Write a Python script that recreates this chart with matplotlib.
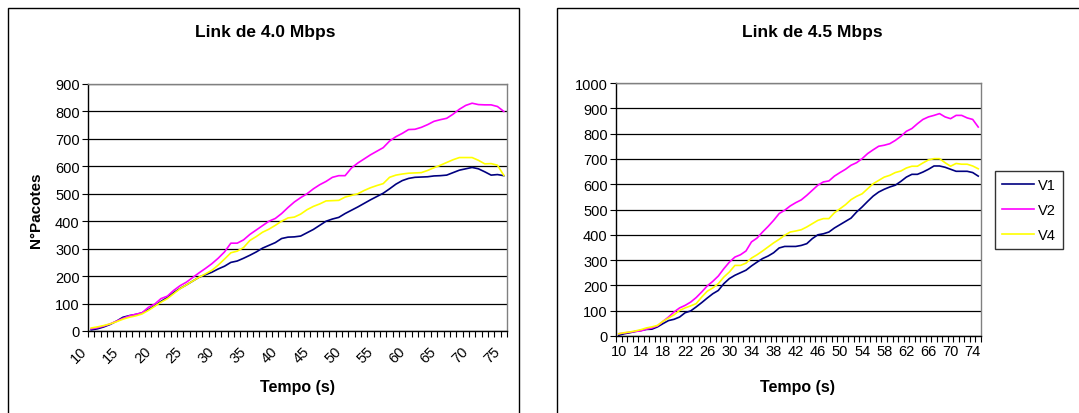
import matplotlib
matplotlib.use("Agg")
import matplotlib.pyplot as plt
from matplotlib.patches import Rectangle
from matplotlib.ticker import FixedLocator, MultipleLocator
from matplotlib.transforms import ScaledTranslation

plt.rcParams['font.family'] = ['Liberation Sans', 'DejaVu Sans']

# Time axis (s)
tempo = list(range(10, 76))

# Link de 4.0 Mbps
v1_40 = [4, 8, 15, 24, 36, 50, 56, 60, 66, 78,
         92, 108, 122, 140, 155, 168, 182, 196, 205, 214,
         226, 236, 250, 255, 265, 276, 288, 302, 312, 322,
         337, 342, 343, 346, 358, 370, 385, 400, 408, 414,
         428, 440, 452, 465, 478, 490, 502, 518, 535, 548,
         556, 560, 561, 562, 565, 566, 568, 577, 586, 591,
         596, 591, 580, 568, 570, 566]
v2_40 = [8, 12, 18, 26, 36, 46, 55, 61, 66, 86,
         98, 118, 127, 148, 165, 178, 195, 212, 228, 245,
         265, 288, 320, 320, 332, 352, 368, 384, 400, 410,
         428, 450, 470, 486, 500, 518, 533, 545, 560, 566,
         566, 594, 612, 627, 642, 655, 668, 692, 708, 720,
         734, 735, 742, 752, 764, 770, 775, 790, 808, 822,
         830, 825, 824, 824, 818, 800]
v4_40 = [11, 15, 20, 26, 34, 43, 50, 55, 62, 75,
         90, 105, 118, 136, 154, 168, 182, 196, 208, 221,
         240, 262, 285, 291, 304, 330, 344, 360, 371, 385,
         400, 412, 415, 426, 442, 454, 463, 474, 475, 476,
         488, 494, 500, 512, 522, 530, 537, 560, 568, 572,
         575, 576, 577, 585, 595, 604, 614, 624, 632, 632,
         632, 622, 609, 610, 604, 567]

# Link de 4.5 Mbps
v1_45 = [3, 9, 13, 18, 22, 26, 27, 36, 49, 61, 66, 75, 92, 99, 115, 132, 150, 167, 180, 207,
         227, 240, 250, 260, 277, 292, 306, 316, 329, 348, 354, 354, 354, 358, 365, 385, 400, 404, 411, 427,
         440, 453, 466, 490, 510, 532, 553, 569, 580, 589, 596, 611, 628, 639, 639, 648, 659, 672, 672, 667,
         659, 651, 651, 651, 646, 632]
v2_45 = [9, 12, 15, 18, 20, 27, 32, 40, 58, 75, 95, 111, 121, 134, 152, 174, 198, 216, 237, 266,
         292, 312, 321, 336, 372, 387, 411, 433, 457, 484, 497, 514, 527, 538, 556, 576, 596, 609, 613, 632,
         646, 659, 675, 685, 701, 721, 736, 750, 754, 760, 773, 789, 809, 820, 839, 856, 866, 872, 879, 866,
         859, 872, 872, 862, 856, 826]
v4_45 = [9, 13, 16, 20, 25, 32, 36, 42, 58, 71, 84, 101, 111, 119, 128, 154, 177, 190, 207, 233,
         253, 279, 279, 288, 308, 321, 336, 352, 368, 382, 398, 411, 415, 420, 431, 444, 457, 464, 464, 487,
         503, 519, 539, 552, 562, 582, 602, 615, 628, 635, 646, 652, 664, 671, 671, 684, 696, 701, 701, 685,
         671, 682, 679, 679, 672, 661]

series_names = ['V1', 'V2', 'V4']
series_colors = ['#000080', '#FF00FF', '#FFFF00']

W, H = 1079, 414
fig = plt.figure(figsize=(W / 100, H / 100), dpi=100)
fig.patch.set_facecolor('white')


def fx(px):
    return px / W


def fy(py):
    return 1 - py / H


# chart frames (the second one runs past the right edge of the canvas)
for x0, x1 in [(8, 519), (557, 1090)]:
    fig.patches.append(Rectangle((fx(x0), -0.05), fx(x1) - fx(x0), fy(9) + 0.05,
                                 transform=fig.transFigure, fill=False,
                                 edgecolor='black', linewidth=1.0))


def draw_panel(rect, data, ymax, label_step, rotate):
    ax = fig.add_axes(rect)
    for vals, name, col in zip(data, series_names, series_colors):
        ax.plot(tempo, vals, color=col, lw=1.2, label=name, solid_joinstyle='round')
    ax.set_xlim(tempo[0] - 0.5, tempo[-1] + 0.5)
    ax.set_ylim(0, ymax)
    ax.yaxis.set_major_locator(MultipleLocator(100))
    ax.grid(axis='y', color='black', lw=0.9)
    ax.set_axisbelow(True)
    for s in ['top', 'right']:
        ax.spines[s].set_color('#808080')
        ax.spines[s].set_linewidth(1.0)
    for s in ['left', 'bottom']:
        ax.spines[s].set_color('black')
        ax.spines[s].set_linewidth(1.0)
    labels = [t for t in tempo if (t - tempo[0]) % label_step == 0]
    ax.xaxis.set_major_locator(FixedLocator(labels))
    ax.xaxis.set_minor_locator(FixedLocator([t - 0.5 for t in tempo] + [tempo[-1] + 0.5]))
    ax.tick_params(axis='x', which='major', length=0, labelsize=10.5, pad=6)
    ax.tick_params(axis='x', which='minor', length=4, width=0.8, direction='out')
    ax.tick_params(axis='y', length=4, width=0.8, labelsize=10.5, pad=2)
    if rotate:
        ax.tick_params(axis='x', which='major', pad=9)
        shift = ScaledTranslation(-11 / 100, 0, fig.dpi_scale_trans)
        for lab in ax.get_xticklabels():
            lab.set_rotation(45)
            lab.set_ha('right')
            lab.set_va('top')
            lab.set_rotation_mode('anchor')
            lab.set_transform(lab.get_transform() + shift)
    return ax


ax1 = draw_panel([fx(88), fy(332), fx(507) - fx(88), fy(85) - fy(332)],
                 [v1_40, v2_40, v4_40], 900, 5, True)
ax2 = draw_panel([fx(616), fy(337), fx(981) - fx(616), fy(84) - fy(337)],
                 [v1_45, v2_45, v4_45], 1000, 4, False)

fig.text(fx(265), fy(33), 'Link de 4.0 Mbps', ha='center', va='center',
         fontsize=12.5, fontweight='bold')
fig.text(fx(812), fy(33), 'Link de 4.5 Mbps', ha='center', va='center',
         fontsize=12.5, fontweight='bold')
fig.text(fx(298), fy(388), 'Tempo (s)', ha='center', va='center',
         fontsize=11.5, fontweight='bold')
fig.text(fx(798), fy(388), 'Tempo (s)', ha='center', va='center',
         fontsize=11.5, fontweight='bold')
fig.text(fx(36), fy(210), 'N°Pacotes', ha='center', va='center', rotation=90,
         fontsize=11, fontweight='bold')

leg = fig.legend(*ax2.get_legend_handles_labels(), loc='upper left',
                 bbox_to_anchor=(fx(995), fy(172)), bbox_transform=fig.transFigure,
                 frameon=True, fancybox=False, edgecolor='black', fontsize=10.5,
                 handlelength=2.2, handletextpad=0.25, borderpad=0.5,
                 labelspacing=0.75, borderaxespad=0)
leg.get_frame().set_linewidth(1.0)

fig.savefig('out.png', dpi=100, facecolor='white')
